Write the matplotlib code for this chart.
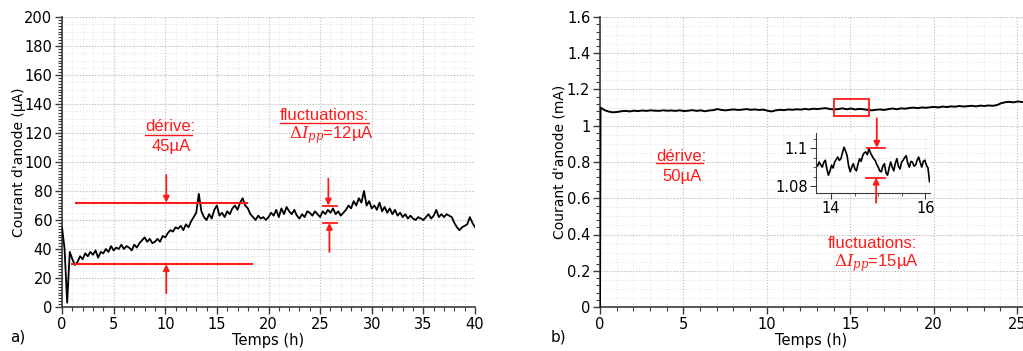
import numpy as np
import matplotlib
matplotlib.use("Agg")
import matplotlib.pyplot as plt
from matplotlib.patches import Rectangle
from matplotlib.ticker import MultipleLocator, FormatStrFormatter

plt.rcParams['font.family'] = ['DejaVu Sans']
plt.rcParams['mathtext.fontset'] = 'dejavuserif'

# panel a) : anode current (uA), one sample every 0.25 h from 0 to 40 h
a_current = [
    55, 40, 3, 38, 33, 29, 31, 35,
    33, 37, 35, 38, 36, 39, 34, 38,
    37, 40, 38, 42, 39, 41, 40, 43,
    40, 42, 41, 39, 43, 41, 44, 46,
    48, 45, 47, 44, 45, 47, 45, 49,
    48, 51, 53, 52, 55, 54, 56, 53,
    57, 55, 59, 62, 65, 78, 66, 62,
    60, 64, 61, 67, 70, 63, 65, 62,
    66, 64, 68, 70, 67, 72, 75, 70,
    68, 64, 62, 60, 63, 61, 62, 60,
    62, 65, 63, 67, 62, 68, 64, 69,
    66, 64, 67, 63, 61, 64, 62, 66,
    65, 63, 66, 64, 62, 66, 64, 67,
    65, 68, 64, 66, 63, 65, 67, 70,
    68, 73, 70, 75, 72, 80, 70, 73,
    68, 70, 67, 72, 66, 69, 65, 68,
    64, 67, 63, 65, 62, 64, 61, 63,
    61, 60, 62, 61, 60, 62, 64, 61,
    63, 67, 62, 64, 62, 64, 63, 62,
    58, 55, 53, 55, 56, 57, 62, 58,
    55,
]
a_start, a_end = 0.0, 40.0

# panel b) : anode current (mA), switch-on at t=0 then every 0.25 h
b_switch_on = 0.0
b_current = [
    1.100, 1.086, 1.078, 1.074, 1.076, 1.080, 1.082, 1.079,
    1.083, 1.081, 1.084, 1.082, 1.085, 1.083, 1.082, 1.085,
    1.083, 1.084, 1.082, 1.085, 1.081, 1.083, 1.086, 1.082,
    1.085, 1.080, 1.084, 1.086, 1.092, 1.087, 1.085, 1.088,
    1.090, 1.087, 1.089, 1.092, 1.088, 1.090, 1.087, 1.089,
    1.083, 1.079, 1.085, 1.088, 1.086, 1.090, 1.088, 1.091,
    1.089, 1.093, 1.090, 1.094, 1.092, 1.095, 1.097, 1.092,
    1.090, 1.092, 1.096, 1.091, 1.095, 1.090, 1.093, 1.091,
    1.088, 1.085, 1.088, 1.090, 1.087, 1.092, 1.095, 1.091,
    1.096, 1.094, 1.098, 1.100, 1.097, 1.101, 1.099, 1.102,
    1.104, 1.101, 1.106, 1.103, 1.107, 1.105, 1.109, 1.106,
    1.108, 1.110, 1.107, 1.111, 1.109, 1.112, 1.110, 1.114,
    1.124, 1.130, 1.132, 1.129, 1.134, 1.131,
]
b_start, b_end = 0.03, 25.3

# zoom of panel b) between 13.68 h and 16.09 h
zoom_current = [
    1.0918, 1.0905, 1.0927, 1.0912, 1.0900, 1.0925, 1.0936, 1.0890,
    1.0857, 1.0880, 1.0910, 1.0895, 1.0927, 1.0940, 1.0953, 1.0935,
    1.0944, 1.0975, 1.1005, 1.0985, 1.0960, 1.0905, 1.0875, 1.0900,
    1.0918, 1.0890, 1.0880, 1.0915, 1.0944, 1.0930, 1.0960, 1.0975,
    1.0980, 1.0965, 1.0997, 1.0975, 1.0960, 1.0945, 1.0936, 1.0915,
    1.0900, 1.0880, 1.0875, 1.0905, 1.0918, 1.0870, 1.0857, 1.0895,
    1.0927, 1.0900, 1.0880, 1.0920, 1.0944, 1.0905, 1.0890, 1.0925,
    1.0936, 1.0950, 1.0960, 1.0920, 1.0900, 1.0930, 1.0927, 1.0905,
    1.0910, 1.0935, 1.0953, 1.0925, 1.0900, 1.0930, 1.0936, 1.0910,
    1.0895, 1.0823,
]
zoom_start, zoom_end = 13.68, 16.09

RED = '#ff1a1a'
AX_COL = '#3a3a3a'


def style_axes(ax, xmajor, xminor, ymajor, yminor, ygrid_minor):
    for side in ('top', 'right'):
        ax.spines[side].set_visible(False)
    for side in ('left', 'bottom'):
        ax.spines[side].set_color(AX_COL)
        ax.spines[side].set_linewidth(1.2)
    ax.xaxis.set_major_locator(MultipleLocator(xmajor))
    ax.xaxis.set_minor_locator(MultipleLocator(xminor))
    ax.yaxis.set_major_locator(MultipleLocator(ymajor))
    ax.yaxis.set_minor_locator(MultipleLocator(yminor))
    ax.tick_params(which='major', direction='out', length=5, width=1,
                   color=AX_COL, labelsize=10.5, pad=2)
    ax.tick_params(which='minor', direction='out', length=3, width=0.8,
                   color=AX_COL)
    ax.grid(which='major', ls=':', lw=0.8, color='#bdbdbd')
    ax.grid(which='minor', axis='x', ls=':', lw=0.6, color='#e2e2e2')
    y0, y1 = ax.get_ylim()
    for y in np.arange(y0, y1 + 1e-9, ygrid_minor):
        ax.axhline(y, ls=':', lw=0.6, color='#e2e2e2', zorder=0)


def arrow(ax, tail, tip):
    ax.annotate('', xy=tip, xytext=tail, annotation_clip=False,
                arrowprops=dict(arrowstyle='-|>', color=RED, lw=1.3,
                                mutation_scale=9, shrinkA=0, shrinkB=0))


def hline(ax, x0, x1, y, lw=1.5):
    ax.plot([x0, x1], [y, y], color=RED, lw=lw, clip_on=False, zorder=5)


fig = plt.figure(figsize=(10.23, 3.51), dpi=100)

######################
# panel a)
######################
ax1 = fig.add_axes([62 / 1023, 1 - 307 / 351, 413 / 1023, 290 / 351])
t_a = np.linspace(a_start, a_end, len(a_current))
ax1.set_xlim(0, 40)
ax1.set_ylim(0, 200)
style_axes(ax1, 5, 1, 20, 2, 5)
ax1.plot(t_a, a_current, color='black', lw=1.3, zorder=4)
ax1.set_xlabel('Temps (h)', fontsize=10.5, labelpad=1)
ax1.set_ylabel("Courant d'anode (µA)", fontsize=10, labelpad=-1)

hline(ax1, 1.36, 17.9, 72)
hline(ax1, 1.0, 18.4, 29.5)
arrow(ax1, (10.1, 91), (10.1, 72))
arrow(ax1, (10.1, 9.5), (10.1, 29.5))
hline(ax1, 25.25, 26.6, 70, lw=1.3)
hline(ax1, 25.25, 26.6, 58, lw=1.3)
arrow(ax1, (25.8, 88.5), (25.8, 70))
arrow(ax1, (25.9, 38), (25.9, 58))

txt = dict(color=RED, fontsize=12, family='Liberation Sans', va='center')
ax1.text(8.04, 124.4, 'dérive:', ha='left', **txt)
hline(ax1, 8.04, 12.62, 118.5, lw=1)
ax1.text(10.62, 110.6, '45µA', ha='center', **txt)
ax1.text(21.12, 132.4, 'fluctuations:', ha='left', **txt)
hline(ax1, 21.12, 29.75, 126.6, lw=1)
ax1.text(26.05, 118.6, r'$\Delta I_{pp}$=12µA', ha='center', **txt)

######################
# panel b)
######################
ax2 = fig.add_axes([600 / 1023, 1 - 307 / 351, 423 / 1023, 290 / 351])
t_b = np.concatenate([[b_switch_on, b_start],
                      np.linspace(b_start, b_end, len(b_current))])
i_b = np.concatenate([[0.0, b_current[0]], b_current])
ax2.set_xlim(0, 25.36)
ax2.set_ylim(0, 1.6)
style_axes(ax2, 5, 1, 0.2, 0.04, 0.05)
ax2.yaxis.set_major_formatter(FormatStrFormatter('%g'))
ax2.plot(t_b, i_b, color='black', lw=1.4, zorder=4)
ax2.set_xlabel('Temps (h)', fontsize=10.5, labelpad=1)
ax2.set_ylabel("Courant d'anode (mA)", fontsize=10, labelpad=0)

ax2.add_patch(Rectangle((14.05, 1.056), 2.05, 0.092, fill=False,
                        edgecolor=RED, lw=1.3, zorder=6))
ax2.text(3.36, 0.829, 'dérive:', ha='left', **txt)
ax2.plot([3.36, 6.17], [0.792, 0.792], color=RED, lw=1)
ax2.text(4.9, 0.719, '50µA', ha='center', **txt)
ax2.text(16.33, 0.351, 'fluctuations:', ha='center', **txt)
ax2.text(16.55, 0.241, r'$\Delta I_{pp}$=15µA', ha='center', **txt)

# inset
ax3 = fig.add_axes([816 / 1023, 1 - 193 / 351, 114 / 1023, 60 / 351])
t_z = np.linspace(zoom_start, zoom_end, len(zoom_current))
ax3.set_xlim(13.68, 16.1)
ax3.set_ylim(1.0763, 1.108)
ax3.set_facecolor('white')
for side in ('top', 'right'):
    ax3.spines[side].set_visible(False)
for side in ('left', 'bottom'):
    ax3.spines[side].set_color(AX_COL)
ax3.xaxis.set_major_locator(MultipleLocator(2))
ax3.xaxis.set_minor_locator(MultipleLocator(0.5))
ax3.yaxis.set_major_locator(MultipleLocator(0.02))
ax3.yaxis.set_minor_locator(MultipleLocator(0.005))
ax3.yaxis.set_major_formatter(FormatStrFormatter('%g'))
ax3.tick_params(which='major', direction='out', length=4, color=AX_COL,
                labelsize=10.5, pad=2)
ax3.tick_params(which='minor', direction='out', length=2, color=AX_COL)
ax3.grid(which='both', ls=':', lw=0.6, color='#d0d0d0')
ax3.plot(t_z, zoom_current, color='black', lw=1.2)

hline(ax3, 14.76, 15.15, 1.1002, lw=1.3)
hline(ax3, 14.745, 15.15, 1.0844, lw=1.3)
arrow(ax3, (14.97, 1.1158), (14.97, 1.1002))
arrow(ax3, (14.957, 1.0711), (14.957, 1.0844))

fig.text(10 / 1023, 1 - 337 / 351, 'a)', fontsize=11, va='center')
fig.text(551 / 1023, 1 - 337 / 351, 'b)', fontsize=11, va='center')

fig.savefig('out.png', dpi=100)
